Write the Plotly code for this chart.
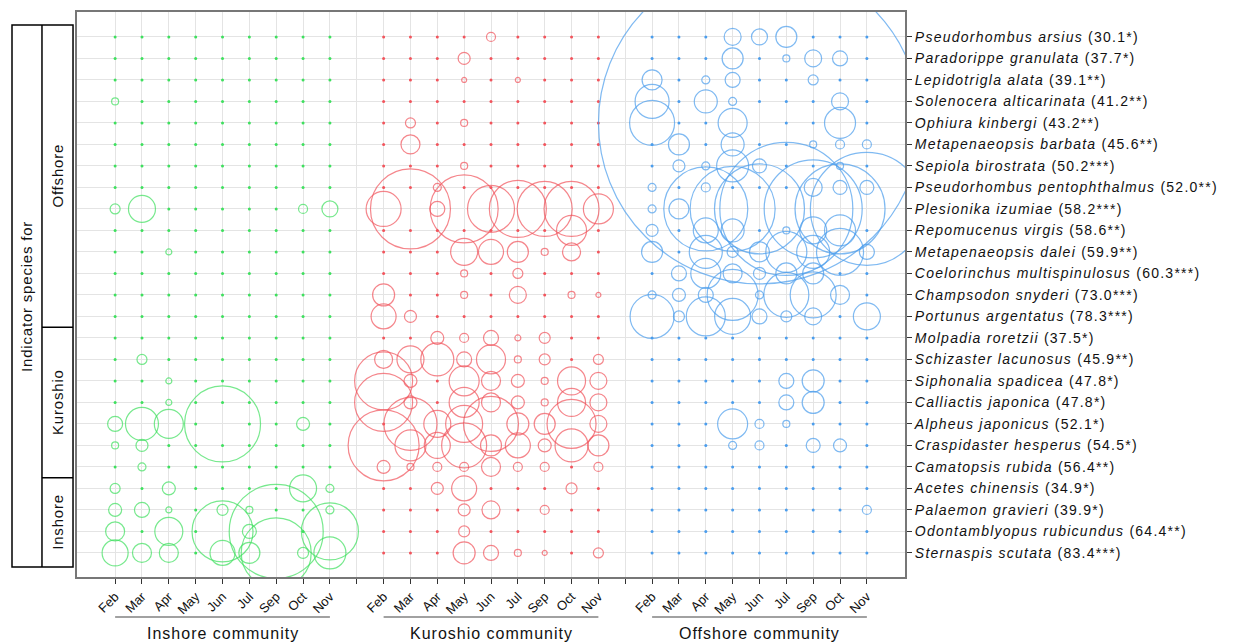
import plotly.graph_objects as go

months = ["Feb", "Mar", "Apr", "May", "Jun", "Jul", "Sep", "Oct", "Nov"]
communities = ["Inshore community", "Kuroshio community", "Offshore community"]
species = [
    "Pseudorhombus arsius", "Paradorippe granulata", "Lepidotrigla alata",
    "Solenocera alticarinata", "Ophiura kinbergi", "Metapenaeopsis barbata",
    "Sepiola birostrata", "Pseudorhombus pentophthalmus", "Plesionika izumiae",
    "Repomucenus virgis", "Metapenaeopsis dalei", "Coelorinchus multispinulosus",
    "Champsodon snyderi", "Portunus argentatus", "Molpadia roretzii",
    "Schizaster lacunosus", "Siphonalia spadicea", "Calliactis japonica",
    "Alpheus japonicus", "Craspidaster hesperus", "Camatopsis rubida",
    "Acetes chinensis", "Palaemon gravieri", "Odontamblyopus rubicundus",
    "Sternaspis scutata",
]
indval = [
    "30.1*", "37.7*", "39.1**", "41.2**", "43.2**", "45.6**", "50.2***", "52.0**",
    "58.2***", "58.6**", "59.9**", "60.3***", "73.0***", "78.3***", "37.5*",
    "45.9**", "47.8*", "47.8*", "52.1*", "54.5*", "56.4**", "34.9*", "39.9*",
    "64.4**", "83.4***",
]
indicator_groups = ["Offshore", "Kuroshio", "Inshore"]
group_counts = [14, 7, 4]

Z = [0] * 9
# abundance (relative), rows = species (top to bottom), cols = months
inshore = [
    Z, Z, Z,
    [0.49, 0, 0, 0, 0, 0, 0, 0, 0],
    Z, Z, Z, Z,
    [1.0, 7.29, 0, 0, 0, 0, 0, 0.81, 2.56],
    Z,
    [0, 0, 0.36, 0, 0, 0, 0, 0, 0],
    Z, Z, Z, Z,
    [0, 1.0, 0, 0, 0, 0, 0, 0, 0],
    [0, 0, 0.36, 0, 0, 0, 0, 0, 0],
    [0, 0, 0.36, 0, 0, 0, 0, 0, 0],
    [2.25, 10.89, 8.41, 0, 57.76, 0, 0, 1.69, 0],
    [0.49, 1.44, 0, 0, 0, 0, 0, 0, 0],
    [0, 0.64, 0, 0, 0, 0, 0, 0, 0],
    [1.0, 0, 1.69, 0, 0, 0, 0, 7.29, 0.64],
    [1.69, 2.25, 0.36, 0, 1.21, 0.49, 0, 0, 0.64],
    [3.61, 0, 7.84, 0, 37.21, 1.96, 88.36, 0, 32.49],
    [6.76, 3.61, 3.61, 0, 6.25, 4.41, 49.0, 1.21, 10.24],
]
kuroshio = [
    [0, 0, 0, 0, 0.81, 0, 0, 0, 0],
    [0, 0, 0, 1.44, 0, 0, 0, 0, 0],
    [0, 0, 0, 0.25, 0, 0.25, 0, 0, 0],
    Z,
    [0, 1.0, 0, 0.49, 0, 0, 0, 0, 0],
    [0, 3.61, 0, 0, 0, 0, 0, 0, 0],
    [0, 0, 0, 0.49, 0, 0, 0, 0, 0],
    [0, 0, 0.64, 0, 0, 0, 0, 0, 0],
    [12.25, 64.0, 2.25, 46.24, 22.09, 32.49, 30.25, 30.25, 9.0],
    [0, 0, 0, 0, 0, 0, 0, 9.0, 0],
    [0, 0, 0, 7.29, 6.25, 4.41, 0.49, 3.24, 0],
    [0, 0, 0, 0.49, 0, 1.0, 0, 0, 0],
    [4.84, 0, 0, 0.49, 0, 2.89, 0, 0.49, 0.25],
    [6.25, 1.44, 0, 0, 0, 0, 0, 0, 0],
    [0, 0, 1.69, 0.81, 2.25, 0.36, 1.21, 0, 0],
    [3.24, 7.29, 10.89, 2.25, 8.41, 0.49, 1.21, 0, 1.0],
    [33.64, 1.69, 0, 9.0, 3.61, 1.69, 0.49, 7.84, 2.89],
    [33.64, 1.69, 0, 9.0, 3.61, 1.69, 0.49, 7.84, 2.89],
    [0, 28.09, 7.29, 13.69, 30.25, 4.84, 4.41, 24.01, 2.89],
    [50.41, 9.61, 6.76, 20.25, 4.41, 6.25, 1.69, 10.89, 4.41],
    [1.69, 0.49, 0.81, 0.81, 3.61, 0.81, 0.81, 0, 0.81],
    [0, 0, 1.44, 6.25, 0, 0, 0, 1.21, 0],
    [0, 0, 0, 1.44, 3.24, 0, 0.81, 0, 0],
    [0, 0, 0, 1.21, 0, 0, 0, 0, 0],
    [0, 0, 0, 4.84, 2.25, 0.49, 0.25, 0, 1.0],
]
offshore = [
    [0, 0, 0, 2.89, 2.56, 4.41, 0, 0, 0],
    [0, 0, 0, 4.41, 0, 0.49, 2.89, 2.25, 0],
    [4.0, 0, 0.64, 2.25, 0, 0, 1.0, 0, 0],
    [11.56, 0, 5.29, 0.64, 0, 0, 0, 2.89, 0],
    [20.25, 0, 0, 8.41, 1036.84, 0, 0, 9.61, 0],
    [0, 4.41, 0, 5.29, 0, 0, 0.49, 0.81, 0.81],
    [0, 1.44, 0.64, 10.24, 1.96, 0, 0, 0.49, 0],
    [0.64, 0, 0.81, 0, 0, 0, 3.24, 1.96, 1.96],
    [0.64, 4.0, 70.56, 72.25, 81.0, 176.89, 96.04, 81.0, 127.69],
    [1.44, 0, 6.25, 5.29, 0, 0.49, 7.29, 9.61, 0],
    [4.41, 0, 10.89, 1.21, 4.0, 16.81, 10.89, 22.09, 2.25],
    [0, 2.25, 9.0, 3.61, 1.44, 4.41, 4.41, 0, 0],
    [0.64, 1.69, 2.25, 26.01, 0.64, 20.25, 21.16, 3.61, 0],
    [19.36, 1.21, 15.21, 12.96, 2.25, 1.21, 2.89, 0, 7.29],
    Z, Z,
    [0, 0, 0, 0, 0, 2.25, 4.84, 0, 0],
    [0, 0, 0, 0, 0, 2.25, 4.84, 0, 0],
    [0, 0, 0, 9.0, 0.81, 0.49, 0, 0, 0],
    [0, 0, 0, 0.64, 0.81, 0, 1.96, 1.69, 0],
    Z, Z,
    [0, 0, 0, 0, 0, 0, 0, 0, 0.81],
    Z, Z,
]

colors = ["#3ee05e", "#f2545c", "#4a9ded"]
tables = [inshore, kuroshio, offshore]
nrow = len(species)

fig = go.Figure()
for ci, (table, col) in enumerate(zip(tables, colors)):
    base = ci * 10
    dx, dy, bx, by, bs = [], [], [], [], []
    for r in range(nrow):
        for m in range(len(months)):
            x = base + m + 1
            y = nrow - r
            v = table[r][m]
            if v > 0:
                bx.append(x)
                by.append(y)
                bs.append(v)
            else:
                dx.append(x)
                dy.append(y)
    fig.add_trace(go.Scatter(x=dx, y=dy, mode="markers",
                             marker=dict(size=3, color=col, line=dict(width=0)),
                             hoverinfo="skip", showlegend=False))
    fig.add_trace(go.Scatter(x=bx, y=by, mode="markers",
                             marker=dict(size=bs, sizemode="area", sizeref=0.02,
                                         color="rgba(0,0,0,0)",
                                         line=dict(color=col, width=1.2)),
                             showlegend=False))

tickvals, ticktext = [], []
for ci in range(3):
    for m, mo in enumerate(months):
        tickvals.append(ci * 10 + m + 1)
        ticktext.append(mo)
    if ci < 2:
        tickvals.append(ci * 10 + 10)
        ticktext.append("")

SP = '<span style="letter-spacing:1.25px">'
ylabels = [f"{SP}<i>{s}</i> ({v})</span>" for s, v in zip(species, indval)]

# the page body adds an 8 px offset; size the figure to fill the rest of the window
W, H = 1229, 635
fig.update_layout(
    width=W, height=H,
    margin=dict(l=69, r=332, t=4, b=66, autoexpand=False),
    paper_bgcolor="white", plot_bgcolor="white",
    font=dict(family="Liberation Sans, Arial, sans-serif", color="#111"),
    xaxis=dict(range=[-0.42, 30.42], tickvals=tickvals, ticktext=ticktext,
               tickangle=-45, ticks="outside", ticklen=5, tickwidth=1, tickcolor="#333",
               showgrid=True, gridcolor="#e4e4e4", gridwidth=1,
               showline=True, linecolor="#777", linewidth=2, mirror=True,
               zeroline=False, automargin=False, tickfont=dict(size=13)),
    yaxis=dict(range=[-0.12, 26.16], side="right",
               tickvals=list(range(nrow, 0, -1)), ticktext=ylabels,
               ticks="outside", ticklen=5, tickwidth=1, tickcolor="#333",
               showgrid=True, gridcolor="#e4e4e4", gridwidth=1,
               showline=True, linecolor="#777", linewidth=2, mirror=True,
               zeroline=False, automargin=False, tickfont=dict(size=14)),
)

# community labels under x axis
for ci, comm in enumerate(communities):
    x0, x1 = ci * 10 + 1, ci * 10 + 9
    fig.add_shape(type="line", xref="x", yref="paper", x0=x0, x1=x1,
                  y0=-0.0708, y1=-0.0708, line=dict(color="#444", width=1.2))
    fig.add_annotation(xref="x", yref="paper", x=(x0 + x1) / 2, y=-0.1,
                       text=f'<span style="letter-spacing:1px">{comm}</span>',
                       showarrow=False, xanchor="center", yanchor="middle",
                       font=dict(size=16))

# left indicator box
bx0, bxm, bx1 = -0.0785, -0.0423, -0.0048
ytop, ybot = 25.56, 0.35
fig.add_shape(type="rect", xref="paper", yref="y", x0=bx0, x1=bx1, y0=ybot, y1=ytop,
              line=dict(color="black", width=1.5))
fig.add_shape(type="line", xref="paper", yref="y", x0=bxm, x1=bxm, y0=ybot, y1=ytop,
              line=dict(color="black", width=1.5))
bounds = [ytop]
acc = nrow
for c in group_counts:
    acc -= c
    bounds.append(acc + 0.5 if acc > 0 else ybot)
for b in bounds[1:-1]:
    fig.add_shape(type="line", xref="paper", yref="y", x0=bxm, x1=bx1, y0=b, y1=b,
                  line=dict(color="black", width=1.5))
fig.add_annotation(xref="paper", yref="y", x=(bx0 + bxm) / 2, y=(ytop + ybot) / 2,
                   text='<span style="letter-spacing:0.8px">Indicator species for</span>',
                   textangle=-90, showarrow=False, xanchor="center", yanchor="middle",
                   font=dict(size=15))
for g, top, bot in zip(indicator_groups, bounds[:-1], bounds[1:]):
    fig.add_annotation(xref="paper", yref="y", x=(bxm + bx1) / 2, y=(top + bot) / 2,
                       text=f'<span style="letter-spacing:0.8px">{g}</span>',
                       textangle=-90, showarrow=False, xanchor="center", yanchor="middle",
                       font=dict(size=15))

fig.write_html("out.html")
